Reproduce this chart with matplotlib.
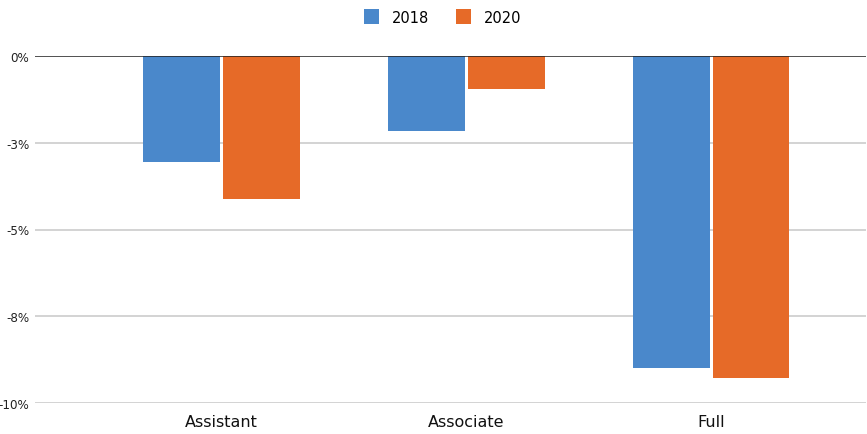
import numpy as np
import matplotlib.pyplot as plt

categories = ["Assistant", "Associate", "Full"]
series_names = ["2018", "2020"]
values_2018 = [-3.05, -2.17, -8.99]
values_2020 = [-4.12, -0.96, -9.26]
tick_values = [0, -2.5, -5, -7.5, -10]
tick_labels = ["0%", "-3%", "-5%", "-8%", "-10%"]

colors = ["#4A88CB", "#E66A28"]

plt.rcParams["font.family"] = ["DejaVu Sans"]

W, H = 867, 435
fig = plt.figure(figsize=(W / 100, H / 100), dpi=100)
ax = fig.add_axes([35 / W, 1 - 404.3 / H, (866 - 35) / W, (404.3 - 56.7) / H])

x = np.arange(len(categories))
width = 0.314
gap = 0.006
ax.bar(x - width / 2 - gap, values_2018, width, color=colors[0], label=series_names[0], zorder=3)
ax.bar(x + width / 2 + gap, values_2020, width, color=colors[1], label=series_names[1], zorder=3)

ax.set_ylim(-10, 0)
ax.set_xlim(-0.763, 2.633)
ax.set_yticks(tick_values)
ax.set_yticklabels(tick_labels, fontsize=9.5, color="#222222", fontstretch="condensed")
ax.set_xticks(x)
ax.set_xticklabels(categories, fontsize=11.5, color="#111111")
ax.tick_params(axis="both", length=0)
ax.tick_params(axis="y", pad=4)
ax.tick_params(axis="x", pad=8)

for t in tick_values[1:]:
    ax.axhline(t, color="#cccccc", linewidth=1.2, zorder=1)
ax.axhline(0, color="#222222", linewidth=1.1, zorder=4)

for s in ax.spines.values():
    s.set_visible(False)

fig.legend(loc="center", bbox_to_anchor=(443 / W, 1 - 18 / H), ncol=2, frameon=False,
           fontsize=10.5, handlelength=1.0, handleheight=1.2, columnspacing=1.85,
           handletextpad=0.9)

fig.savefig("out.png", dpi=100)
